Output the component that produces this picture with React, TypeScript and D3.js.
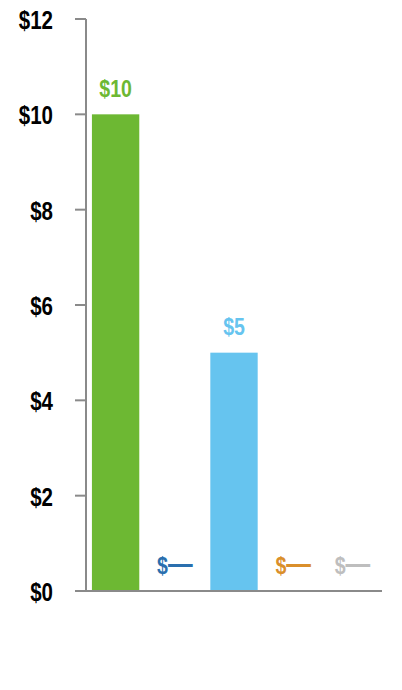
import React from "react";
import * as d3 from "d3";

const categories = ["A", "B", "C", "D", "E"];
const values: (number | null)[] = [10, null, 5, null, null];
const colors = ["#6DB833", "#2A6FAE", "#66C4EF", "#DA8F2B", "#BEBEBE"];
const yTicks = [0, 2, 4, 6, 8, 10, 12];

const W = 402, H = 690;
const FONT = "'Liberation Sans', Arial, sans-serif";

export default function App() {
  const x = d3.scaleBand<string>().domain(categories).range([86, 382]).paddingInner(0.2).paddingOuter(0.1);
  const y = d3.scaleLinear().domain([0, 12]).range([591, 19]);
  return (
    <svg width={W} height={H} style={{ position: "absolute", left: 0, top: 0 }}>
      <line x1={86} x2={86} y1={y(12)} y2={y(0)} stroke="#8a8a8a" strokeWidth={2} />
      {yTicks.map((t) => (
        <g key={t}>
          <line x1={75} x2={86} y1={y(t)} y2={y(t)} stroke="#8a8a8a" strokeWidth={2} />
          <g transform={`translate(53,${y(t) + 10}) scale(0.82,1)`}>
            <text x={0} y={0} textAnchor="end" fontFamily={FONT} fontWeight="bold" fontSize={25} fill="#000">
              {"$" + t}
            </text>
          </g>
        </g>
      ))}
      {categories.map((c, i) => {
        const v = values[i];
        const bx = x(c)!;
        const bw = x.bandwidth();
        const top = y(v ?? 0);
        return (
          <g key={c}>
            {v != null && <rect x={bx} y={top} width={bw} height={y(0) - top} fill={colors[i]} />}
            <g transform={`translate(${bx + bw / 2},${top - 17.5}) scale(0.85,1)`}>
              <text x={0} y={0} textAnchor="middle" fontFamily={FONT} fontWeight="bold" fontSize={23} fill={colors[i]}>
                {v != null ? "$" + v : <>$<tspan fontSize={29}>—</tspan></>}
              </text>
            </g>
          </g>
        );
      })}
      <line x1={75} x2={382} y1={y(0)} y2={y(0)} stroke="#8a8a8a" strokeWidth={2} />
    </svg>
  );
}
